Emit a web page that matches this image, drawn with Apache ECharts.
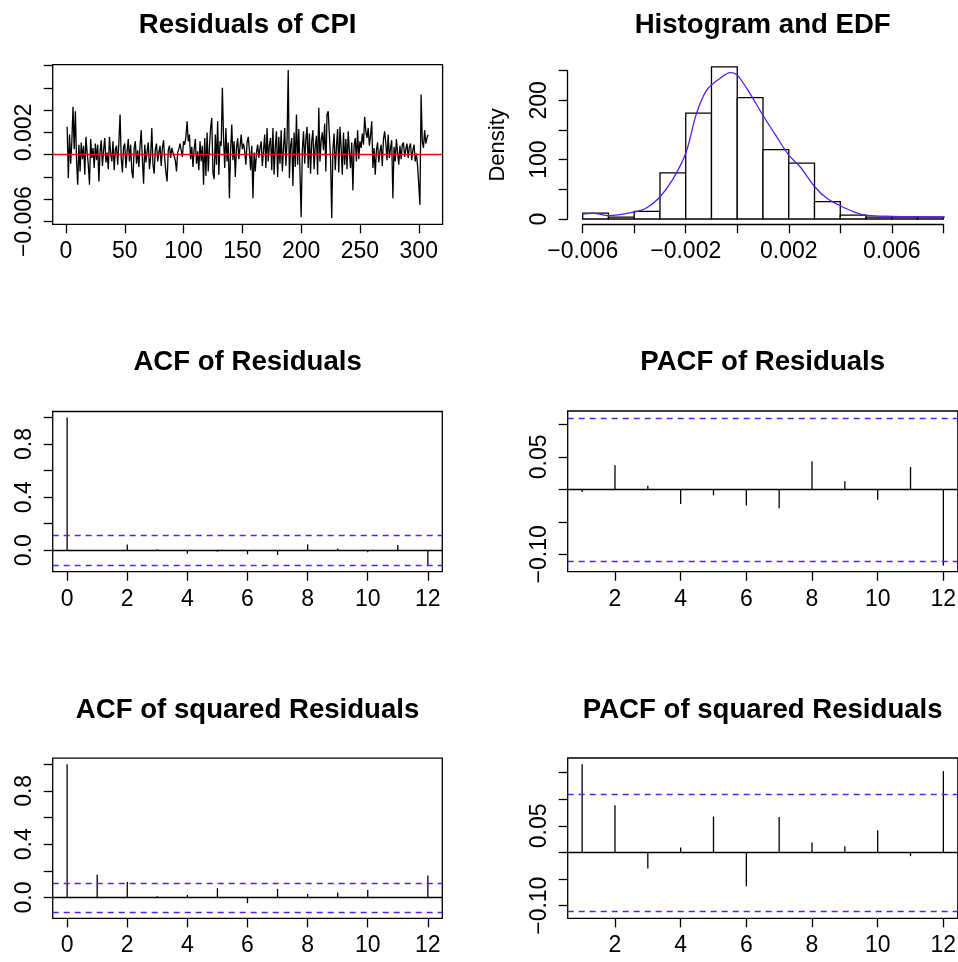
<!DOCTYPE html>
<html><head><meta charset="utf-8">
<script src="https://cdn.jsdelivr.net/npm/echarts@6/dist/echarts.min.js"></script>
<style>html,body{margin:0;padding:0;background:#fff}#c{width:958px;height:962px}</style>
</head><body><div id="c"></div>
<script>
// ---------------- DATA ----------------
const RES_SCALE = 0.001; // residuals stored in units of 0.001
const residualsMilli = [
 2.5,-2.1,1.8,-0.8,1.2,4.3,0.5,3.9,-0.6,-2.7,0.9,-1.5,1.1,-0.4,0.8,-1.8,1.6,0.2,-0.9,-2.7,
 1.4,-0.3,0.6,-1.2,1.0,-0.5,0.9,-2.4,0.3,1.3,-1.0,0.4,1.5,-0.7,0.2,-1.3,1.6,0.1,-0.6,1.2,
 -1.4,0.5,0.8,-0.9,1.1,3.6,-0.3,-1.6,0.7,1.0,-1.2,0.3,1.4,-0.6,0.9,-1.5,-2.1,0.6,1.2,-0.8,
 0.4,-1.1,0.8,2.2,-0.5,-2.6,0.9,-0.7,0.3,1.1,-1.3,-0.2,2.4,-0.9,-1.7,0.5,1.0,-0.6,0.2,0.8,
 -1.0,0.6,1.3,-0.4,-1.6,-2.4,0.4,0.8,-0.3,0.6,0.2,0.3,-0.5,-1.5,0.2,0.5,1.0,0.4,-0.2,1.2,
 0.9,1.6,3.0,1.2,1.8,-0.4,0.7,-1.1,0.5,1.4,-0.8,0.3,-1.4,1.2,-0.6,0.8,-2.7,1.5,-1.9,2.0,
 -1.5,0.7,2.4,3.3,-1.6,-2.2,1.8,-0.9,3.0,-1.8,1.2,0.8,6.0,1.5,-1.2,2.4,-0.6,1.1,-3.9,0.4,
 2.7,-0.5,1.2,-2.0,0.6,1.5,-0.4,0.7,1.8,0.5,1.0,0.3,-0.9,1.1,1.6,0.4,-1.4,0.8,-3.9,0.2,
 -1.5,0.2,0.9,-0.3,0.6,1.2,-1.0,0.4,1.8,-1.2,2.4,-0.6,0.9,1.5,-1.4,2.4,-1.8,0.7,2.1,-2.0,
 1.6,-0.8,2.2,-1.5,0.6,2.4,-1.0,1.2,7.6,-2.1,0.8,1.5,-2.8,2.0,-1.1,3.6,-0.9,2.3,-1.6,-5.6,
 0.4,2.1,-0.8,1.4,2.5,-1.2,1.9,-1.7,1.2,2.2,-1.3,0.8,1.7,-1.8,4.2,-0.6,1.3,2.0,0.4,2.8,
 -1.5,3.6,3.9,1.8,-0.4,-5.7,0.5,1.9,-1.4,0.7,2.3,-1.6,2.5,0.6,-1.8,2.0,-0.9,1.4,-1.3,2.1,
 0.3,-1.2,1.1,-3.2,0.8,1.5,-0.6,2.2,-0.4,1.2,0.6,1.9,0.9,3.4,2.1,1.5,2.4,0.8,1.7,3.0,
 -1.2,0.6,-1.8,0.4,1.1,-0.7,0.3,0.9,-1.0,1.4,2.1,1.0,-0.5,1.8,-0.3,0.6,1.3,-3.9,0.7,-0.6,
 1.4,0.2,-0.9,0.8,-0.4,0.9,1.1,-0.2,0.5,1.0,-0.3,0.7,1.0,-0.5,0.4,0.9,-0.6,0.1,-1.0,-2.7,
 -4.5,5.4,1.2,0.6,2.2,1.0,1.5,1.8
];
const resXTicks = [0,50,100,150,200,250,300];
const resYTicks = [-0.006,-0.004,-0.002,0,0.002,0.004,0.006,0.008];
const resYLabels = [-0.006,0.002];

const histBreaks = [-0.006,-0.005,-0.004,-0.003,-0.002,-0.001,0,0.001,0.002,0.003,0.004,0.005,0.006,0.007,0.008];
const histDensity = [9.74,3.25,12.99,77.92,178.6,256.5,204.5,116.9,94.16,29.22,6.49,3.25,3.25,3.25];
const edfX = [-0.00658,-0.00600,-0.00559,-0.00501,-0.00400,-0.00351,-0.00301,-0.00248,-0.00200,-0.00158,-0.00119,-0.00067,-0.00026,0.00000,0.00049,0.00099,0.00153,0.00200,0.00244,0.00301,0.00348,0.00400,0.00452,0.00503,0.00600,0.00800,0.00857];
const edfY = [0.5,8.4,9.6,5.6,11.8,19.0,36.6,68.6,110.7,178.0,217.0,237.0,246.6,242.6,211.8,175.3,138.7,107.8,88.1,54.4,34.9,22.4,12.3,6.2,4.5,3.4,0.3];
const histXTicks = [-0.006,-0.004,-0.002,0,0.002,0.004,0.006,0.008];
const histXLabels = [-0.006,-0.002,0.002,0.006];
const histYTicks = [0,50,100,150,200,250];
const histYLabels = [0,100,200];

const acfLags = [0,1,2,3,4,5,6,7,8,9,10,11,12];
const acfResid = [1,-0.004,0.043,0.008,-0.025,-0.010,-0.030,-0.035,0.045,0.013,-0.015,0.040,-0.116];
const acfSqResid = [1,0.170,0.117,0.010,0.020,0.070,-0.042,0.065,0.0275,0.0375,0.057,-0.004,0.165];
const pacfLags = [1,2,3,4,5,6,7,8,9,10,11,12];
const pacfResid = [-0.004,0.037,0.0057,-0.0226,-0.0093,-0.0247,-0.0293,0.0432,0.0123,-0.016,0.0344,-0.1174];
const pacfSqResid = [0.166,0.089,-0.030,0.0094,0.0677,-0.0633,0.0665,0.0188,0.0119,0.042,-0.0069,0.153];
const confLimit = 0.1117;
const lagTicksAcf = [0,2,4,6,8,10,12];
const lagTicksPacf = [2,4,6,8,10,12];
const acfYTicks = [0,0.2,0.4,0.6,0.8,1.0];
const acfYLabels = [0,0.4,0.8];
const pacfYTicks = [-0.10,-0.05,0,0.05,0.10];
const pacfSqYTicks = [-0.10,-0.05,0,0.05,0.10,0.15];
const pacfYLabels = [-0.10,0.05];
const titles = ['Residuals of CPI','Histogram and EDF','ACF of Residuals','PACF of Residuals','ACF of squared Residuals','PACF of squared Residuals'];

// ---------------- STYLE / LAYOUT ----------------
const FONT = 'Liberation Sans, Arial, Helvetica, sans-serif';
const CI_COLOR = '#5a1ef5';
const LW = 1.3;
const minus = s => s.replace('-', '\u2212');
const f = d => v => minus(Number(v).toFixed(d));

const grids = [
  {left:52.7, top:64.7, width:389.9, height:159.6, show:true},
  {left:582.7, top:70.7, width:360.6, height:148.3, show:false},
  {left:52.7, top:411.5, width:389.6, height:160.2, show:true},
  {left:567.7, top:411, width:390.1, height:160.7, show:true},
  {left:52.7, top:758.2, width:389.6, height:160.2, show:true},
  {left:567.7, top:758, width:390.1, height:160.3, show:true}
].map(g => Object.assign({borderColor:'#000', borderWidth:LW, backgroundColor:'transparent', outerBoundsMode:'none', containLabel:false}, g));

function axis(gi, min, max, ticks, labels, fmt, extra) {
  const a = {
    type:'value', gridIndex:gi, min:min, max:max, scale:true,
    axisLine:{show:false, onZero:false, lineStyle:{color:'#000', width:LW}},
    axisTick:{show:true, length:9, inside:false, customValues:ticks, lineStyle:{color:'#000', width:LW}},
    axisLabel:{show:true, customValues:labels, formatter:fmt, color:'#000', fontSize:23, fontFamily:FONT, margin:16, hideOverlap:false, showMinLabel:true, showMaxLabel:true},
    splitLine:{show:false}, minorTick:{show:false}
  };
  if (extra) {
    if (extra.axisLineShow) a.axisLine.show = true;
    if (extra.offset) a.offset = extra.offset;
    if (extra.name) Object.assign(a, extra.name);
  }
  return a;
}
function yaxis(gi, min, max, ticks, labels, fmt, extra) {
  const a = axis(gi, min, max, ticks, labels, fmt, extra);
  a.axisLabel.rotate = 90;
  a.axisLabel.margin = 17;
  return a;
}

const xAxes = [
  axis(0, -11.28, 320.28, resXTicks, resXTicks, v => String(v)),
  axis(1, -0.006, 0.008, histXTicks, histXLabels, f(3), {offset:5.3, axisLineShow:true}),
  axis(2, -0.48, 12.48, lagTicksAcf, lagTicksAcf, v => String(v)),
  axis(3, 0.56, 12.44, lagTicksPacf, lagTicksPacf, v => String(v)),
  axis(4, -0.48, 12.48, lagTicksAcf, lagTicksAcf, v => String(v)),
  axis(5, 0.56, 12.44, lagTicksPacf, lagTicksPacf, v => String(v))
];
const yAxes = [
  yaxis(0, -0.006242, 0.008072, resYTicks, resYLabels, f(3)),
  yaxis(1, 0, 250, histYTicks, histYLabels, v => String(v), {offset:15, axisLineShow:true,
        name:{name:'Density', nameLocation:'middle', nameRotate:90, nameGap:59, nameTextStyle:{color:'#000', fontSize:22, fontFamily:FONT}}}),
  yaxis(2, -0.1610, 1.0447, acfYTicks, acfYLabels, f(1)),
  yaxis(3, -0.1268, 0.1206, pacfYTicks, pacfYLabels, f(2)),
  yaxis(4, -0.1564, 1.0447, acfYTicks, acfYLabels, f(1)),
  yaxis(5, -0.1237, 0.1776, pacfSqYTicks, pacfYLabels, f(2))
];

function refLines(withCI) {
  const data = [{yAxis:0, lineStyle:{color:'#000', type:'solid', width:LW}}];
  if (withCI) {
    data.push({yAxis:confLimit, lineStyle:{color:CI_COLOR, type:[6,5], width:LW}});
    data.push({yAxis:-confLimit, lineStyle:{color:CI_COLOR, type:[6,5], width:LW}});
  }
  return {silent:true, symbol:['none','none'], label:{show:false}, animation:false, data:data};
}
function stemSeries(gi, lags, vals) {
  return {
    type:'custom', xAxisIndex:gi, yAxisIndex:gi, clip:false,
    data: lags.map((l,i) => [l, vals[i]]),
    encode:{x:0, y:1},
    renderItem: (params, api) => {
      const p0 = api.coord([api.value(0), 0]);
      const p1 = api.coord([api.value(0), api.value(1)]);
      return {type:'line', shape:{x1:p0[0], y1:p0[1], x2:p1[0], y2:p1[1]}, style:{stroke:'#000', lineWidth:LW}};
    },
    markLine: refLines(true)
  };
}

const series = [
  {type:'line', xAxisIndex:0, yAxisIndex:0, symbol:'none', showSymbol:false,
   data: residualsMilli.map((v,i) => [i+1, v*RES_SCALE]),
   lineStyle:{color:'#000', width:LW}, z:2,
   markLine:{silent:true, symbol:['none','none'], label:{show:false}, data:[{yAxis:0, lineStyle:{color:'#ff0000', type:'solid', width:LW}}]}},
  {type:'custom', xAxisIndex:1, yAxisIndex:1, clip:false,
   data: histDensity.map((d,i) => [histBreaks[i], histBreaks[i+1], d]),
   encode:{x:[0,1], y:2},
   renderItem: (params, api) => {
     const pTop = api.coord([api.value(0), api.value(2)]);
     const pBot = api.coord([api.value(1), 0]);
     return {type:'rect', shape:{x:pTop[0], y:pTop[1], width:pBot[0]-pTop[0], height:pBot[1]-pTop[1]},
             style:{fill:'#fff', stroke:'#000', lineWidth:LW}};
   }},
  {type:'line', xAxisIndex:1, yAxisIndex:1, symbol:'none', showSymbol:false, smooth:0.35, clip:false,
   data: edfX.map((x,i) => [x, edfY[i]]), lineStyle:{color:CI_COLOR, width:LW}, z:3},
  stemSeries(2, acfLags, acfResid),
  stemSeries(3, pacfLags, pacfResid),
  stemSeries(4, acfLags, acfSqResid),
  stemSeries(5, pacfLags, pacfSqResid)
];

const titleCenters = [[247.6,11],[762.7,11],[247.6,348],[762.7,348],[247.6,696],[762.7,696]];
const title = titles.map((t,i) => ({text:t, left:titleCenters[i][0], top:titleCenters[i][1], textAlign:'center',
  textStyle:{fontSize:27.6, fontWeight:'bold', color:'#000', fontFamily:FONT}, padding:0}));

const chart = echarts.init(document.getElementById('c'), null, {renderer:'canvas'});
chart.setOption({
  animation:false, backgroundColor:'#fff',
  textStyle:{fontFamily:FONT},
  title:title, grid:grids, xAxis:xAxes, yAxis:yAxes, series:series
});
</script></body></html>
